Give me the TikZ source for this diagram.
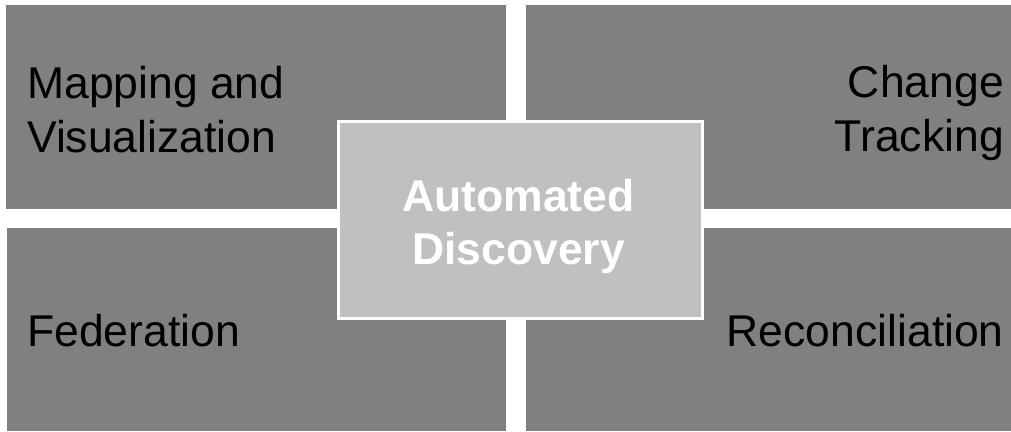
\documentclass[tikz,border=0pt]{standalone}
\usepackage{fontspec}
\setmainfont{Liberation Sans}
\definecolor{boxgray}{HTML}{808080}
\definecolor{centergray}{HTML}{C0C0C0}
\begin{document}
\begin{tikzpicture}[x=1pt,y=-1pt,
  quad/.style={fill=boxgray,draw=none,inner sep=0pt,anchor=north west},
  lbl/.style={inner sep=0pt,font=\fontsize{44.5}{54}\selectfont,text=black},
  hub/.style={fill=centergray,draw=white,line width=3pt,inner sep=0pt,anchor=north west},
  hublbl/.style={inner sep=0pt,font=\fontsize{44.5}{53}\selectfont\bfseries,text=white,align=center}]
\useasboundingbox (0,0) rectangle (1011,431);
\node[quad,minimum width=500pt,minimum height=204pt] (tl) at (6,5) {};
\node[quad,minimum width=485pt,minimum height=204pt] (tr) at (526,5) {};
\node[quad,minimum width=499pt,minimum height=203pt] (bl) at (7,228) {};
\node[quad,minimum width=485pt,minimum height=203pt] (br) at (526,228) {};
\node[hub,minimum width=364pt,minimum height=197pt] (hub) at (336.5,119.5) {};
\node[lbl,align=left,anchor=base west] (tltext) at (27,152) {Mapping and\\Visualization};
\node[lbl,align=right,anchor=base east] (trtext) at (1004,151) {Change\\Tracking};
\node[lbl,anchor=base west] (bltext) at (27,346) {Federation};
\node[lbl,anchor=base east] (brtext) at (1004,346) {Reconciliation};
\node[hublbl,anchor=base] (hubtext) at (518.5,264) {Automated\\Discovery};
\end{tikzpicture}
\end{document}
